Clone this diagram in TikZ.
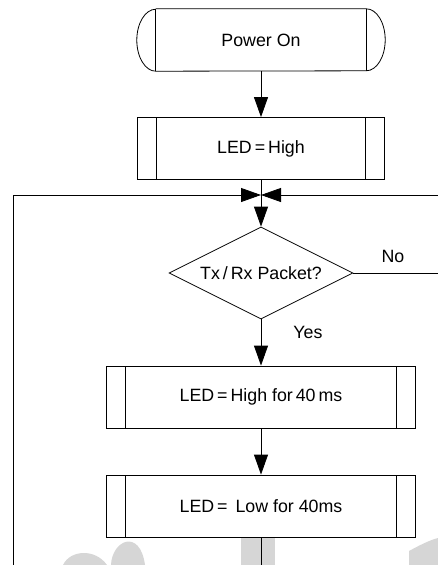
\documentclass[tikz,border=0pt]{standalone}
\usepackage{fontspec}
\setmainfont{Liberation Sans}
\usetikzlibrary{shapes.geometric,arrows.meta}

\tikzset{
  line/.style={line width=.8pt},
  arr/.style={line, -{Triangle[length=20pt,width=14pt]}},
  txt/.style={font=\fontsize{17.8}{21}\selectfont},
  proc/.style={line, draw, txt, inner sep=0pt, minimum height=62pt,
    path picture={\draw[line]
      ([xshift=19pt]path picture bounding box.north west) -- ([xshift=19pt]path picture bounding box.south west)
      ([xshift=-19pt]path picture bounding box.north east) -- ([xshift=-19pt]path picture bounding box.south east);}},
  decide/.style={line, draw, txt, diamond, aspect=2, inner sep=0pt, minimum width=184pt, minimum height=92pt},
  blob/.style={fill=black!16}
}

\begin{document}
\begin{tikzpicture}[x=1pt, y=-1pt]
  \useasboundingbox (0,0) rectangle (438,565);

  % watermark blobs
  \fill[blob] (63,565) .. controls (70,550) and (95,548) .. (107,565) -- cycle;
  \fill[blob] (111,565) .. controls (112,540) and (140,528) .. (145,565) -- cycle;
  \fill[blob] (241,538) rectangle (275,565);
  \fill[blob] (409,565) -- (409,551) .. controls (420,545) and (430,540) .. (438,538) -- (438,565) -- cycle;

  % boxes
  \node[txt, minimum width=248pt, minimum height=62pt, inner sep=0pt] (pwr) at (261,40) {Power On};
  \draw[line] ([xshift=19pt]pwr.north west) -- ([xshift=-19pt]pwr.north east)
      arc [start angle=90, end angle=-90, x radius=19pt, y radius=31pt]
      -- ([xshift=19pt]pwr.south west)
      arc [start angle=270, end angle=90, x radius=19pt, y radius=31pt];
  \draw[line] ([xshift=19pt]pwr.north west) -- ([xshift=19pt]pwr.south west)
      ([xshift=-19pt]pwr.north east) -- ([xshift=-19pt]pwr.south east);

  \node[proc, minimum width=247pt] (led) at (261,148.5) {LED\,=\,High};
  \node[decide] (pkt) at (261,273) {Tx\,/\,Rx Packet?};
  \node[proc, minimum width=309pt] (hi) at (261,397) {LED\,=\,High for\,40\,ms};
  \node[proc, minimum width=309pt] (lo) at (261,506) {LED\,= \,Low for 40ms};

  % labels
  \node[txt] (no) at (393,256) {No};
  \node[txt] (yes) at (308,332) {Yes};

  % loop points
  \coordinate (join) at (261,195);
  \coordinate (lt) at (13,195);
  \coordinate (lb) at (13,565);
  \coordinate (rt) at (438,195);
  \coordinate (rn) at (438,273);
  \coordinate (out) at (261,565);

  % connectors
  \draw[arr] (pwr) -- (led);
  \draw[line] (led) -- (join);
  \draw[arr] (join) -- (pkt);
  \draw[arr] (lb) -- (lt) -- (join);
  \draw[arr] (rt) -- (join);
  \draw[line] (pkt) -- (rn);
  \draw[arr] (pkt) -- (hi);
  \draw[arr] (hi) -- (lo);
  \draw[line] (lo) -- (out);
\end{tikzpicture}
\end{document}
